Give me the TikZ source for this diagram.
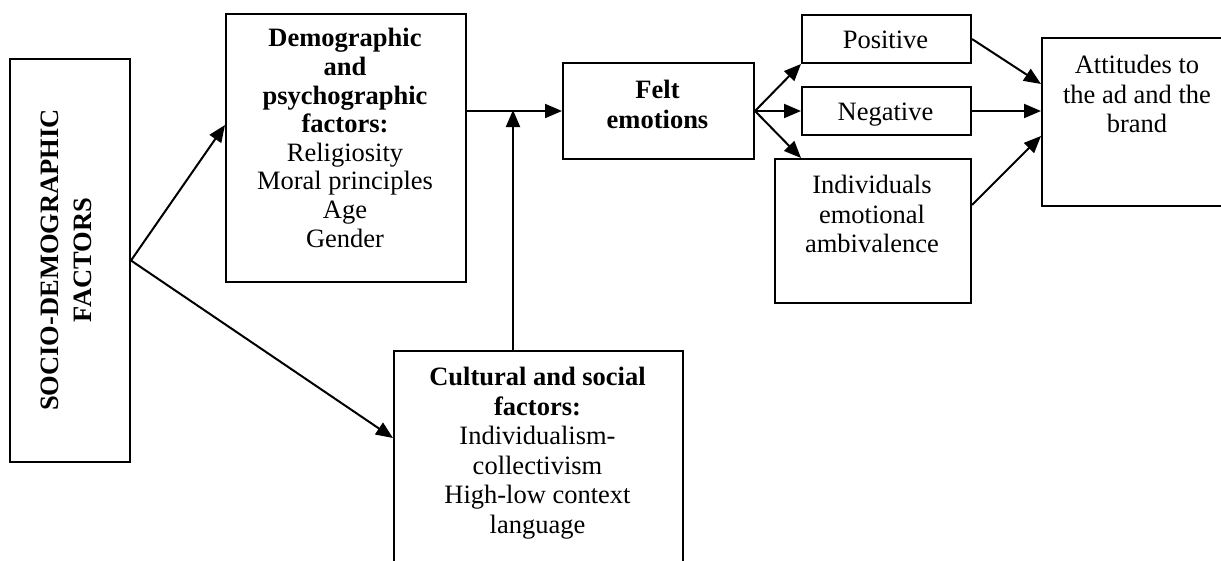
\documentclass[tikz,border=0pt]{standalone}
\usepackage{fontspec}
\setmainfont{Liberation Serif}
\usetikzlibrary{arrows.meta,calc}
\begin{document}
\begin{tikzpicture}[x=1pt,y=-1pt,
  box/.style={draw,line width=2pt,rectangle,inner sep=0pt,anchor=north west},
  txt/.style={font=\fontsize{26.5}{29.5}\selectfont,align=center,inner sep=0pt,anchor=north},
  arr/.style={line width=2pt,-{Triangle[length=17pt,width=14pt]}}]
\path[use as bounding box] (0,0) rectangle (1221,560);
\clip (0,0) rectangle (1221,560);
% boxes
\node[box,minimum width=120pt,minimum height=403pt] (soc) at (9,58) {};
\node[box,minimum width=240pt,minimum height=268pt] (dem) at (225,13) {};
\node[box,minimum width=289pt,minimum height=250pt] (cult) at (393,350) {};
\node[box,minimum width=191pt,minimum height=96pt] (felt) at (562,62) {};
\node[box,minimum width=169pt,minimum height=48pt] (pos) at (801,14) {};
\node[box,minimum width=169pt,minimum height=48pt] (neg) at (801,86) {};
\node[box,minimum width=196pt,minimum height=144pt] (ind) at (774,158) {};
\node[box,minimum width=192pt,minimum height=168pt] (att) at (1041,37) {};
% texts
\node[txt,anchor=center,rotate=90,font=\fontsize{26.5}{33}\selectfont\bfseries] (soct) at (66,260) {SOCIO-DEMOGRAPHIC\\FACTORS};
\node[txt,font=\fontsize{26.5}{28.6}\selectfont] (demt) at (345,26.7) {\strut\textbf{Demographic}\\\textbf{and}\\\textbf{psychographic}\\\textbf{factors:}\\Religiosity\\Moral principles\\Age\\Gender};
\node[txt] (cultt) at (537.5,364.7) {\strut\textbf{Cultural and social}\\\textbf{factors:}\\Individualism-\\collectivism\\High-low context\\language};
\node[txt] (feltt) at (657.5,77.7) {\strut\textbf{Felt}\\\textbf{emotions}};
\node[txt] (post) at (885.5,27.7) {\strut Positive};
\node[txt] (negt) at (885.5,99.7) {\strut Negative};
\node[txt] (indt) at (872,172.7) {\strut Individuals\\emotional\\ambivalence};
\node[txt] (attt) at (1137,52.7) {\strut Attitudes to\\the ad and the\\brand};
% connectors
\coordinate (j) at (513,110);
\draw[arr] (soc.east) -- ([yshift=-112pt]dem.north west);
\draw[arr] (soc.east) -- ([yshift=-88pt]cult.north west);
\draw[arr] (dem.east |- felt.west) -- (felt.west);
\draw[arr] (j |- cult.north) -- (j);
\draw[arr] (felt.east) -- (pos.south west);
\draw[arr] (felt.east) -- (neg.west);
\draw[arr] (felt.east) -- (pos.south west |- ind.north);
\draw[arr] (pos.east) -- ([yshift=-47pt]att.north west);
\draw[arr] (neg.east) -- (att.west |- neg.east);
\draw[arr] ([yshift=-47pt]ind.north east) -- ([yshift=-99pt]att.north west);
\end{tikzpicture}
\end{document}
